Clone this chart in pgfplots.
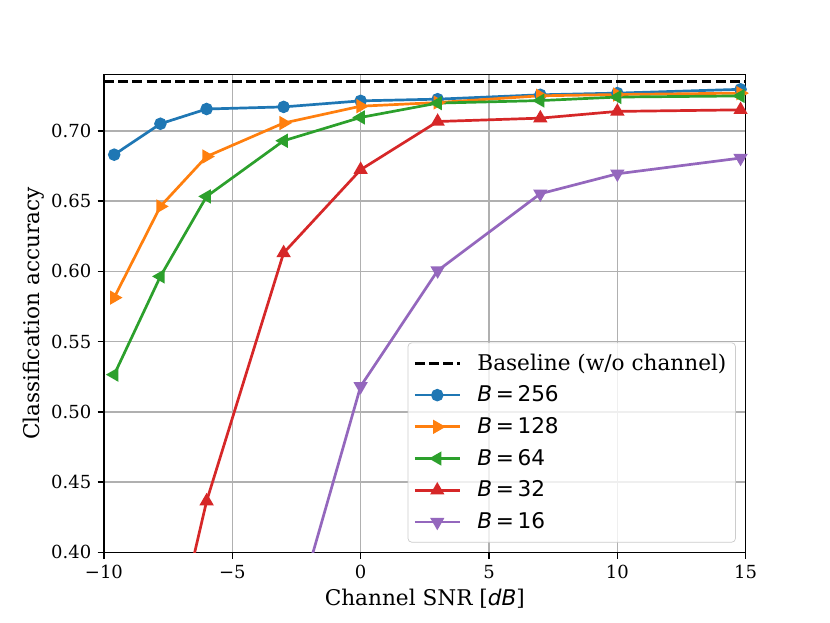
\documentclass[border=0pt]{standalone}
\usepackage{fontspec}
\setmainfont{DejaVu Serif}
\setsansfont{DejaVu Sans}
\usepackage{pgfplots}
\pgfplotsset{compat=1.18}
\definecolor{c0}{HTML}{1F77B4}
\definecolor{c1}{HTML}{FF7F0E}
\definecolor{c2}{HTML}{2CA02C}
\definecolor{c3}{HTML}{D62728}
\definecolor{c4}{HTML}{9467BD}
\definecolor{gridgray}{HTML}{B0B0B0}
\newcommand{\Bl}[1]{{\sffamily\textit{B}\,=\,#1}}
\begin{document}
\begin{tikzpicture}
\useasboundingbox (-57.7pt,-38.9pt) rectangle (403.1pt,306.7pt);
\begin{axis}[
  scale only axis,
  width=356.3pt, height=265.3pt,
  xmin=-10, xmax=15, ymin=0.40, ymax=0.74,
  xtick={-10,-5,0,5,10,15},
  xticklabels={−10,−5,0,5,10,15},
  ytick={0.40,0.45,0.50,0.55,0.60,0.65,0.70},
  yticklabels={0.40,0.45,0.50,0.55,0.60,0.65,0.70},
  tick label style={font=\fontsize{10}{12}\selectfont},
  tick align=outside, tick pos=left,
  major tick length=3.5pt,
  every tick/.style={black, line width=0.8pt},
  axis line style={line width=0.8pt},
  grid=major,
  major grid style={gridgray, line width=0.8pt},
  xlabel={Channel SNR [{\sffamily\itshape dB}]},
  ylabel={Classification accuracy},
  label style={font=\fontsize{12}{14}\selectfont},
  xlabel style={yshift=1pt},
  ylabel style={yshift=-3pt},
  legend cell align=left,
  legend style={at={(1,0)}, anchor=south east, xshift=-5.5pt, yshift=5.5pt,
    draw=gray!40, rounded corners=2pt, fill=white, fill opacity=0.8, draw opacity=1, text opacity=1,
    font=\fontsize{12}{14}\selectfont, row sep=3.2pt, inner xsep=3pt, inner ysep=4pt,
    /tikz/every odd column/.append style={column sep=7pt}},
  legend image code/.code={\draw[line width=1.5pt, opacity=1, mark repeat=2,mark phase=2] plot coordinates {(0pt,0pt) (12.5pt,0pt) (25pt,0pt)};},
  every axis plot/.append style={line width=1.5pt},
  clip=true,
]
\addplot[black, line width=1.5pt, dash pattern=on 5.5pt off 2.4pt] coordinates {(-10,0.735) (15,0.735)};
\addlegendentry{Baseline (w/o channel)}
\addplot[c0, line width=1.5pt, mark=*, mark size=2.7pt, mark options={solid, fill=c0}] coordinates {
(-9.6,0.683) (-7.8,0.705) (-6,0.7155) (-3,0.717) (0,0.7213) (3,0.7225) (7,0.7256) (10,0.7268) (14.8,0.7295)};
\addlegendentry{\Bl{256}}
\addplot[c1, line width=1.5pt, mark=triangle*, mark size=3.1pt, mark options={rotate=-90, solid, fill=c1}] coordinates {
(-9.6,0.5813) (-7.8,0.6462) (-6,0.6817) (-3,0.7055) (0,0.7175) (3,0.7201) (7,0.7249) (10,0.7258) (14.8,0.7268)};
\addlegendentry{\Bl{128}}
\addplot[c2, line width=1.5pt, mark=triangle*, mark size=3.1pt, mark options={rotate=90, solid, fill=c2}] coordinates {
(-9.6,0.5265) (-7.8,0.5964) (-6,0.6533) (-3,0.6929) (0,0.7095) (3,0.7197) (7,0.7215) (10,0.724) (14.8,0.7248)};
\addlegendentry{\Bl{64}}
\addplot[c3, line width=1.5pt, mark=triangle*, mark size=3.1pt, mark options={solid, fill=c3}] coordinates {
(-7.8,0.295) (-6,0.4365) (-3,0.6131) (0,0.6723) (3,0.7066) (7,0.709) (10,0.7138) (14.8,0.7149)};
\addlegendentry{\Bl{32}}
\addplot[c4, line width=1.5pt, mark=triangle*, mark size=3.1pt, mark options={rotate=180, solid, fill=c4}] coordinates {
(-3,0.327) (0,0.5182) (3,0.6005) (7,0.6552) (10,0.6694) (14.8,0.6806)};
\addlegendentry{\Bl{16}}
\end{axis}
\end{tikzpicture}
\end{document}
